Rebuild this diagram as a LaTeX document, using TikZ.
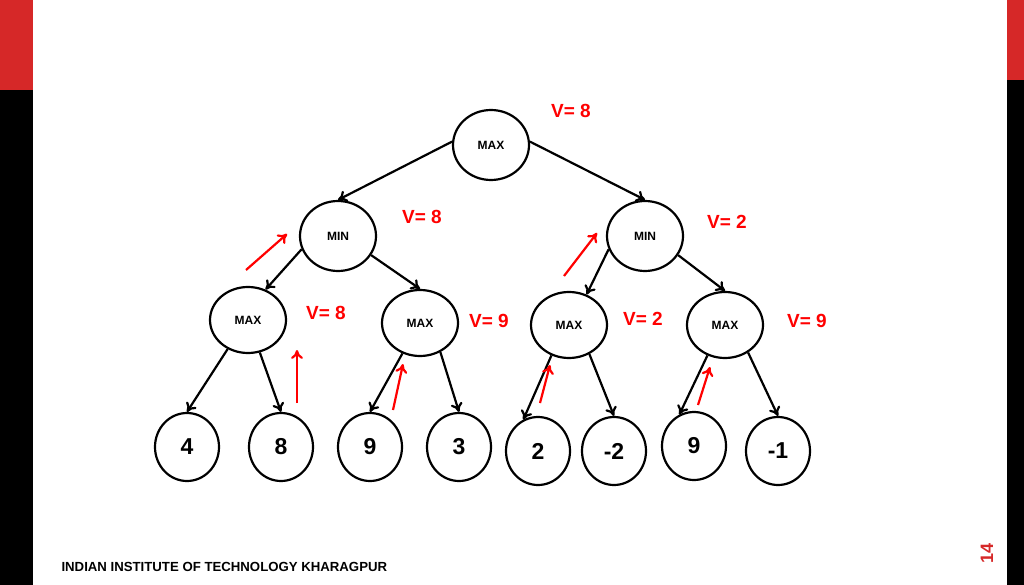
\documentclass[tikz,border=0pt]{standalone}
\usepackage{fontspec}
\setmainfont{Liberation Sans}
\usetikzlibrary{shapes.geometric,arrows.meta,positioning}
\definecolor{slidered}{RGB}{214,40,40}
\tikzset{
    state/.style={ellipse, draw, line width=2.2pt, minimum width=76pt, minimum height=70pt, inner sep=0pt, font=\fontsize{12}{14}\selectfont\bfseries},
    leaf/.style={ellipse, draw, line width=2.2pt, minimum width=64pt, minimum height=68pt, inner sep=0pt, font=\fontsize{23}{26}\selectfont\bfseries},
    edge/.style={-{To[length=9pt,width=12pt]}, line width=2.2pt},
    backup/.style={-{To[length=9pt,width=12pt]}, line width=2.2pt, red},
    vlabel/.style={text=red, font=\fontsize{19}{22}\selectfont\bfseries}
}
\begin{document}
\begin{tikzpicture}[x=1pt,y=-1pt]
\useasboundingbox (0,0) rectangle (1024,585);

% side bars
\fill[black] (0,0) rectangle (33,585);
\fill[slidered] (0,0) rectangle (33,90);
\fill[black] (1007,0) rectangle (1024,585);
\fill[slidered] (1007,0) rectangle (1024,80);

% tree nodes
\node[state] (root) at (491,145) {MAX};
\node[state] (minl) at (338,236) {MIN};
\node[state] (minr) at (645,236) {MIN};
\node[state, minimum height=66pt] (maxa) at (248,320) {MAX};
\node[state, minimum height=66pt] (maxb) at (420,323) {MAX};
\node[state, minimum height=66pt] (maxc) at (569,325) {MAX};
\node[state, minimum height=66pt] (maxd) at (725,325) {MAX};

\node[leaf] (la) at (187,447) {4};
\node[leaf] (lb) at (281,447) {8};
\node[leaf] (lc) at (370,447) {9};
\node[leaf] (ld) at (459,447) {3};
\node[leaf] (le) at (538,451) {2};
\node[leaf] (lf) at (614,451) {-2};
\node[leaf] (lg) at (694,446) {9};
\node[leaf] (lh) at (778,451) {-1};

% tree edges
\draw[edge] (root.175) -- (minl.north);
\draw[edge] (root.5) -- (minr.north);
\draw[edge] (minl.200) -- (maxa.60);
\draw[edge] (minl.-30) -- (maxb.north);
\draw[edge] (minr.200) -- (maxc.60);
\draw[edge] (minr.-30) -- (maxd.north);
\draw[edge] (maxa.235) -- (la.north);
\draw[edge] (maxa.-70) -- (lb.north);
\draw[edge] (maxb.240) -- (lc.north);
\draw[edge] (maxb.-55) -- (ld.north);
\draw[edge] (maxc.240) -- (le.115);
\draw[edge] (maxc.-55) -- (lf.north);
\draw[edge] (maxd.240) -- (lg.115);
\draw[edge] (maxd.-50) -- (lh.north);

% backed-up values
\node[vlabel] (vroot) at (571,111) {V= 8};
\node[vlabel] (vminl) at (422,217) {V= 8};
\node[vlabel] (vminr) at (727,222) {V= 2};
\node[vlabel] (vmaxa) at (326,313) {V= 8};
\node[vlabel] (vmaxb) at (489,321) {V= 9};
\node[vlabel] (vmaxc) at (643,319) {V= 2};
\node[vlabel] (vmaxd) at (807,321) {V= 9};

% red arrows
\coordinate (ra1) at (246,270); \coordinate (ra2) at (287,234);
\coordinate (rb1) at (297,403); \coordinate (rb2) at (297,350);
\coordinate (rc1) at (393,410); \coordinate (rc2) at (403,364);
\coordinate (rd1) at (564,276); \coordinate (rd2) at (597,233);
\coordinate (re1) at (540,403); \coordinate (re2) at (550,365);
\coordinate (rf1) at (698,405); \coordinate (rf2) at (710,367);
\draw[backup] (ra1) -- (ra2);
\draw[backup] (rb1) -- (rb2);
\draw[backup] (rc1) -- (rc2);
\draw[backup] (rd1) -- (rd2);
\draw[backup] (re1) -- (re2);
\draw[backup] (rf1) -- (rf2);

% footer
\node[anchor=west, font=\fontsize{13.2}{15}\selectfont\bfseries] (footer) at (58,567) {INDIAN INSTITUTE OF TECHNOLOGY KHARAGPUR};
\node[rotate=90, text=slidered, font=\fontsize{18}{20}\selectfont\bfseries] (page) at (987,553) {14};

\end{tikzpicture}
\end{document}
